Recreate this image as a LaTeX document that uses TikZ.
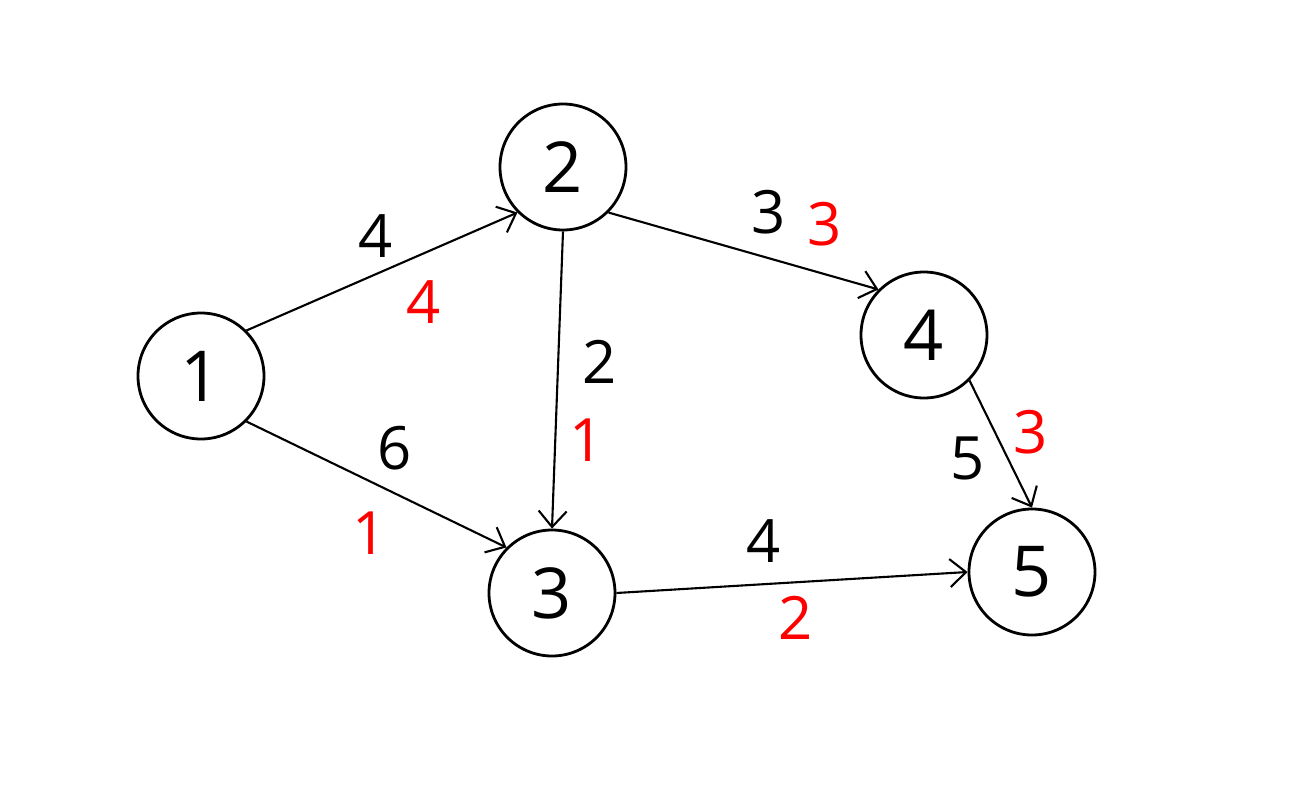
\documentclass[tikz,border=0pt]{standalone}
\usepackage{fontspec}
\setmainfont{Open Sans}
\usetikzlibrary{arrows.meta}
\tikzset{
  >={Straight Barb[length=1.6mm,width=2.8mm]},
  v/.style={circle,draw,line width=0.8pt,minimum size=12.6mm,inner sep=0pt,font=\fontsize{20}{24}\selectfont},
  wb/.style={inner sep=1pt,font=\fontsize{17}{20}\selectfont},
  wr/.style={wb,text=red},
  every picture/.style={line width=0.6pt},
}
\begin{document}
\begin{tikzpicture}
\useasboundingbox (0,0) rectangle (13.12,7.84);
\node[v] (n1) at (2.01,4.08){1};
\node[v] (n2) at (5.63,6.17){2};
\node[v] (n3) at (5.52,1.91){3};
\node[v] (n4) at (9.24,4.49){4};
\node[v] (n5) at (10.32,2.12){5};
\draw[->] (n1.45) -- (n2.225);
\draw[->] (n1.-45) -- (n3.135);
\draw[->] (n2.-90) -- (n3.90);
\draw[->] (n2.-45) -- (n4.135);
\draw[->] (n4.-45) -- (n5.90);
\draw[->] (n3.0) -- (n5.180);
% capacities
\node[wb] (c12) at (3.76,5.48){4};
\node[wb] (c13) at (3.95,3.36){6};
\node[wb] (c23) at (6.00,4.22){2};
\node[wb] (c24) at (7.69,5.72){3};
\node[wb] (c45) at (9.68,3.26){5};
\node[wb] (c35) at (7.64,2.43){4};
% flows
\node[wr] (f12) at (4.24,4.82){4};
\node[wr] (f13) at (3.70,2.51){1};
\node[wr] (f23) at (5.87,3.44){1};
\node[wr] (f24) at (8.25,5.60){3};
\node[wr] (f45) at (10.31,3.52){3};
\node[wr] (f35) at (7.96,1.66){2};
\end{tikzpicture}
\end{document}
